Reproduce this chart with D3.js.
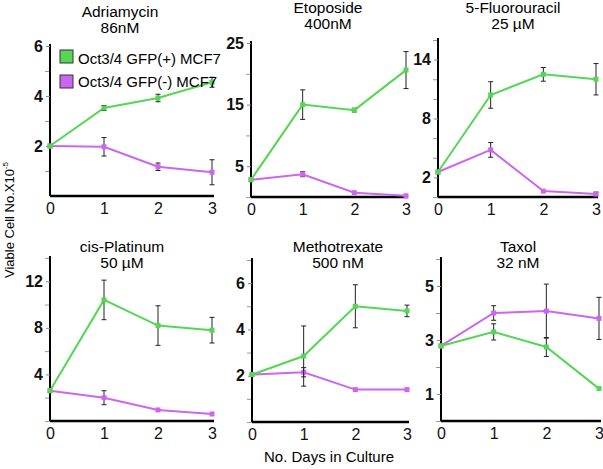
<!DOCTYPE html>
<html><head><meta charset="utf-8">
<script src="https://cdn.jsdelivr.net/npm/d3@7"></script>
<style>body{margin:0;background:#fff}svg{display:block}text{font-family:"Liberation Sans",Arial,sans-serif}</style>
</head><body><svg id="c" width="603" height="469"></svg>
<script>
const days = [0, 1, 2, 3];
const titles = ["Adriamycin", "Etoposide", "5-Fluorouracil", "cis-Platinum", "Methotrexate", "Taxol"];
const doses = ["86nM", "400nM", "25 µM", "50 µM", "500 nM", "32 nM"];
const yMax = [6, 25, 16, 14, 7, 6];
const yLabelTicks = [[2, 4, 6], [5, 15, 25], [2, 8, 14], [4, 8, 12], [2, 4, 6], [1, 3, 5]];
const yMinorTicks = [[1, 3, 5], [0, 10, 20], [0, 4, 6, 10, 12, 16], [0, 2, 6, 10, 14], [0, 1, 3, 5, 7], [0, 2, 4, 6]];
const greenVals = [[2.0, 3.52, 3.92, 4.55], [2.8, 15.0, 14.1, 20.6], [2.55, 10.4, 12.5, 12.0], [2.6, 10.4, 8.2, 7.8], [2.05, 2.85, 5.0, 4.8], [2.78, 3.3, 2.74, 1.2]];
const greenErr = [[0, 0.1, 0.15, 0.2], [0, 2.4, 0.3, 3.0], [0, 1.35, 0.7, 1.6], [0, 1.7, 1.7, 1.1], [0, 1.3, 0.93, 0.25], [0, 0.3, 0.35, 0]];
const magVals = [[2.0, 1.97, 1.17, 0.95], [2.8, 3.7, 0.7, 0.2], [2.55, 4.8, 0.6, 0.3], [2.6, 2.0, 0.95, 0.6], [2.05, 2.15, 1.4, 1.4], [2.78, 4.0, 4.07, 3.8]];
const magErr = [[0, 0.37, 0.15, 0.5], [0, 0.4, 0, 0], [0, 0.75, 0, 0.2], [0, 0.6, 0, 0], [0, 0.2, 0, 0], [0, 0.27, 1.0, 0.78]];
const seriesNames = ["Oct3/4 GFP(+) MCF7", "Oct3/4 GFP(-) MCF7"];
const xLabel = "No. Days in Culture";
const yLabel = "Viable Cell No.X10";

const GREEN = "#55d655", MAG = "#cc66ee";
// layout boxes: [left, right, bottomY, topY]
const boxes = [
  [50, 212, 196, 46], [251, 406, 197, 43], [438, 596, 197, 40],
  [50, 212, 421, 258], [252, 407, 422, 260], [441, 599, 421, 259]
];
const titleY = [12, 8, 8, 247, 247, 247];
const titleX = [120, 328, 513, 122, 338, 518];

const svg = d3.select("#c");

boxes.forEach((b, i) => {
  const g = svg.append("g");
  const x = d3.scaleLinear().domain([0, 3]).range([b[0], b[1]]);
  const y = d3.scaleLinear().domain([0, yMax[i]]).range([b[2], b[3]]);
  g.append("text").attr("x", titleX[i]).attr("y", titleY[i] + 5).attr("text-anchor", "middle")
    .attr("font-size", 15.5).text(titles[i]);
  g.append("text").attr("x", titleX[i]).attr("y", titleY[i] + 21).attr("text-anchor", "middle")
    .attr("font-size", 15.5).text(doses[i]);
  const yAxMinor = d3.axisLeft(y).tickValues(yMinorTicks[i]).tickSize(5).tickFormat("");
  g.append("g").attr("transform", `translate(${b[0]},0)`).call(yAxMinor)
    .call(s => s.select(".domain").remove()).selectAll("line").attr("stroke", "#999").attr("stroke-width", 1);
  const yAx = d3.axisLeft(y).tickValues(yLabelTicks[i]).tickSize(4).tickPadding(3).tickFormat(d3.format("d"));
  const ya = g.append("g").attr("transform", `translate(${b[0]},0)`).call(yAx);
  ya.select(".domain").attr("stroke", "#000").attr("stroke-width", 2).attr("d", `M0,${b[2]}V${b[3] - 2}`);
  ya.selectAll("text").style("font-size", "16px").style("font-weight", "bold").attr("fill", "#111")
    .style("font-family", "Liberation Sans, Arial, sans-serif");
  ya.selectAll("line").attr("stroke", "#888");
  const xAx = d3.axisBottom(x).tickValues(days).tickSize(0).tickPadding(7).tickFormat(d3.format("d"));
  const xa = g.append("g").attr("transform", `translate(0,${b[2]})`).call(xAx);
  xa.select(".domain").attr("stroke", "#000").attr("stroke-width", 2.5).attr("d", `M${b[0]},0H${b[1] + 2}`);
  xa.selectAll("text").style("font-size", "16px").attr("fill", "#111")
    .style("font-family", "Liberation Sans, Arial, sans-serif");
  const series = [[greenVals[i], greenErr[i], GREEN], [magVals[i], magErr[i], MAG]];
  const line = d3.line().x((d, j) => x(days[j])).y(d => y(d));
  [1, 0].forEach(k => {
    const [vals, errs, col] = series[k];
    g.append("path").datum(vals).attr("d", line).attr("fill", "none").attr("stroke", col).attr("stroke-width", 2);
    vals.forEach((v, j) => {
      if (errs[j] > 0) {
        const cx = x(days[j]);
        g.append("line").attr("x1", cx).attr("x2", cx).attr("y1", y(v - errs[j])).attr("y2", y(v + errs[j]))
          .attr("stroke", "#222").attr("stroke-width", 1);
        [v - errs[j], v + errs[j]].forEach(e => {
          g.append("line").attr("x1", cx - 2.5).attr("x2", cx + 2.5).attr("y1", y(e)).attr("y2", y(e))
            .attr("stroke", "#222").attr("stroke-width", 1);
        });
      }
      g.append("rect").attr("x", x(days[j]) - 2.5).attr("y", y(v) - 2.5).attr("width", 5).attr("height", 5)
        .attr("fill", col);
    });
  });
});

const leg = svg.append("g");
[[GREEN, 50, 64], [MAG, 75, 87]].forEach((d, k) => {
  leg.append("rect").attr("x", 60).attr("y", d[1]).attr("width", 13).attr("height", 13)
    .attr("fill", d[0]).attr("stroke", "#333").attr("stroke-width", 1);
  leg.append("text").attr("x", 78).attr("y", d[2]).attr("font-size", 15).text(seriesNames[k]);
});

const yl = svg.append("text").attr("transform", "translate(14,220) rotate(-90)").attr("text-anchor", "middle")
  .attr("font-size", 13);
yl.append("tspan").text(yLabel);
yl.append("tspan").attr("font-size", 8).attr("dy", -6).text("-5");
svg.append("text").attr("x", 329).attr("y", 462).attr("text-anchor", "middle").attr("font-size", 15).text(xLabel);
</script></body></html>
